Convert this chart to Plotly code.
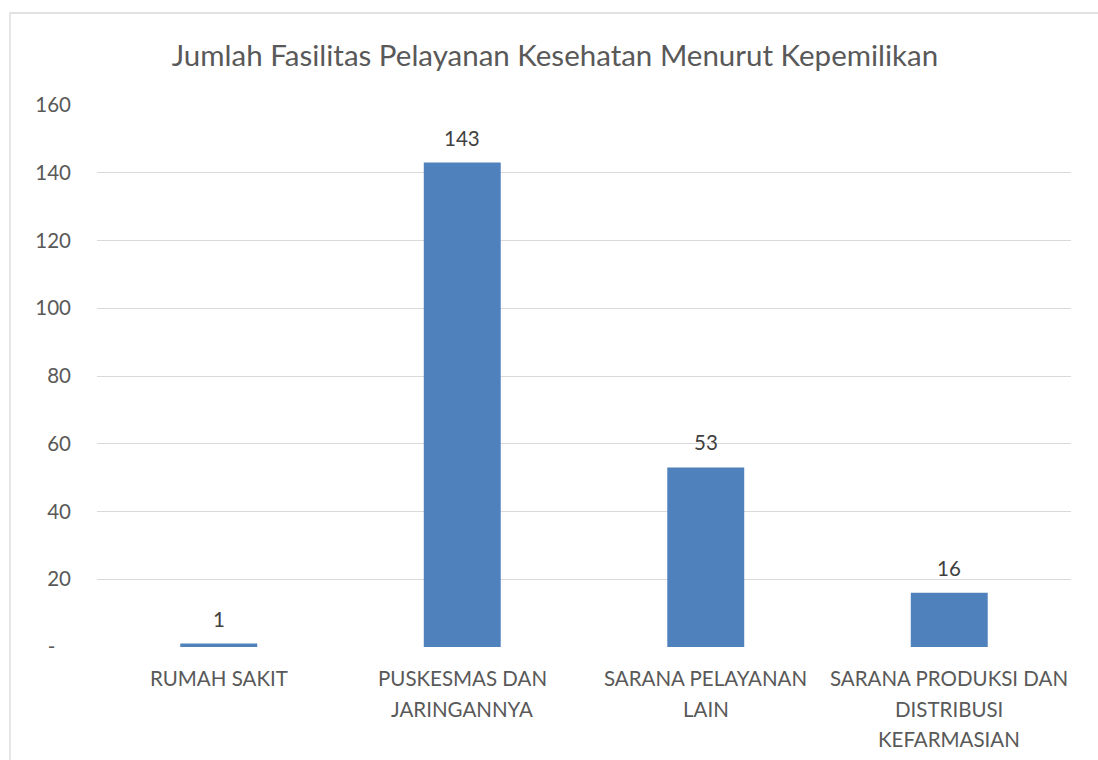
import plotly.graph_objects as go

categories = ["RUMAH SAKIT", "PUSKESMAS DAN JARINGANNYA", "SARANA PELAYANAN LAIN",
              "SARANA PRODUKSI DAN DISTRIBUSI KEFARMASIAN"]
label_lines = [["RUMAH SAKIT"], ["PUSKESMAS DAN", "JARINGANNYA"], ["SARANA PELAYANAN", "LAIN"],
               ["SARANA PRODUKSI DAN", "DISTRIBUSI", "KEFARMASIAN"]]
values = [1, 143, 53, 16]
tick_vals = [0, 20, 40, 60, 80, 100, 120, 140, 160]
tick_text = ["-\u00a0\u00a0\u00a0", "20", "40", "60", "80", "100", "120", "140", "160"]

FONT = "Lato"
W, H = 1098, 760
L, T = 97, 105
R = W - 1071
B = H - 647
pw, ph = W - L - R, H - T - B

fig = go.Figure()
fig.add_trace(go.Bar(x=categories, y=values, marker=dict(color="#4F81BD", line=dict(width=0)),
                     width=0.316, hoverinfo="x+y"))

anns = []
for c, v in zip(categories, values):
    anns.append(dict(x=c, y=v, xref="x", yref="y", text=str(v), showarrow=False,
                     yanchor="middle", yshift=25, font=dict(family=FONT, size=20.5, color="#404040")))
for c, lines in zip(categories, label_lines):
    for i, ln in enumerate(lines):
        anns.append(dict(x=c, y=0, xref="x", yref="paper", text=ln, showarrow=False,
                         yanchor="middle", yshift=-(31 + 30.5 * i),
                         font=dict(family=FONT, size=20.5, color="#595959")))

def px_x(p):
    return (p - L) / pw

def px_y(p):
    return (H - B - p) / ph

fig.add_shape(type="rect", xref="paper", yref="paper",
              x0=px_x(10), x1=px_x(1120), y0=px_y(780), y1=px_y(13),
              line=dict(color="#D9D9D9", width=1.3), fillcolor="rgba(0,0,0,0)", layer="below")

fig.update_layout(
    width=W, height=H,
    margin=dict(l=L, r=R, t=T, b=B, autoexpand=False),
    paper_bgcolor="white", plot_bgcolor="white",
    title=dict(text="Jumlah Fasilitas Pelayanan Kesehatan Menurut Kepemilikan",
               x=555 / W, xanchor="center", y=1 - 56 / H, yanchor="middle",
               font=dict(family=FONT, size=29.5, color="#595959")),
    showlegend=False,
    annotations=anns,
    bargap=0.684,
)
fig.update_xaxes(showticklabels=False, showline=False, showgrid=False, zeroline=False, ticks="")
fig.update_yaxes(range=[0, 160], tickvals=tick_vals, ticktext=tick_text,
                 showgrid=True, gridcolor="#D9D9D9", gridwidth=1.3, zeroline=False,
                 showline=False, ticks="", ticklabelstandoff=25,
                 tickfont=dict(family=FONT, size=20.5, color="#595959"))

fig.write_html("out.html", config={"displayModeBar": False},
               post_script="document.body.style.margin='0';"
                           "document.documentElement.style.overflow='hidden';"
                           "document.body.style.overflow='hidden';")
